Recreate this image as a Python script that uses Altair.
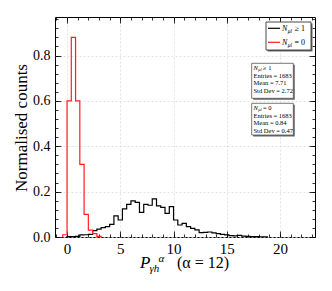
import altair as alt
import pandas as pd

# ---- data ----
bin_width = 0.4
black_start = 0.0
black_heights = [0.002, 0.002, 0.003, 0.009, 0.010, 0.012, 0.028, 0.035, 0.041, 0.046,
                 0.056, 0.093, 0.075, 0.124, 0.144, 0.159, 0.153, 0.109, 0.144, 0.140,
                 0.168, 0.137, 0.131, 0.104, 0.134, 0.075, 0.053, 0.060, 0.046, 0.038,
                 0.031, 0.019, 0.020, 0.022, 0.018, 0.015, 0.012, 0.009, 0.006, 0.005,
                 0.007, 0.004, 0.003, 0.002, 0.002, 0.001, 0.001]
red_start = -0.4
red_heights = [0.010, 0.600, 0.880, 0.600, 0.320, 0.100, 0.030, 0.015, 0.003]
series_names = ["Nge1", "Neq0"]
series_colors = ["#000000", "#ff1f1f"]
x_major = [0, 5, 10, 15, 20]
x_minor = list(range(-1, 24))
y_major = [0.0, 0.2, 0.4, 0.6, 0.8]
y_minor = [round(0.04 * i, 2) for i in range(0, 25)]
x_domain = [-1.13, 23.28]
y_domain = [0.0, 0.97]

W, H = 260, 220
SERIF = "Liberation Serif"


def hist_rows(name, start, heights):
    rows = [{"x": start, "y": 0.0, "s": name, "o": 0}]
    for i, h in enumerate(heights):
        rows.append({"x": round(start + i * bin_width, 4), "y": h, "s": name, "o": i + 1})
    rows.append({"x": round(start + len(heights) * bin_width, 4), "y": 0.0, "s": name,
                 "o": len(heights) + 1})
    return rows


df = pd.DataFrame(hist_rows(series_names[0], black_start, black_heights)
                  + hist_rows(series_names[1], red_start, red_heights))

xs = alt.Scale(domain=x_domain, nice=False, zero=False)
ys = alt.Scale(domain=y_domain, nice=False, zero=False)
col = alt.Color("s:N", scale=alt.Scale(domain=series_names, range=series_colors), legend=None)


def tick_layer(xorient, yorient, xvals, yvals, size):
    return alt.Chart(df).mark_line(interpolate="step-after", strokeOpacity=0).encode(
        x=alt.X("x:Q", scale=xs, axis=alt.Axis(orient=xorient, offset=-H, values=xvals,
                                               labels=False, domain=False, grid=False,
                                               ticks=True, tickSize=size, tickWidth=0.8,
                                               tickColor="black", title=None)),
        y=alt.Y("y:Q", scale=ys, axis=alt.Axis(orient=yorient, offset=-W, values=yvals,
                                               labels=False, domain=False, grid=False,
                                               ticks=True, tickSize=size, tickWidth=0.8,
                                               tickColor="black", title=None)),
        detail="s:N",
    )


main = alt.Chart(df).mark_line(interpolate="step-after", strokeWidth=1.2).encode(
    x=alt.X("x:Q", scale=xs, axis=alt.Axis(orient="bottom", values=x_major, ticks=False,
                                           domain=False, grid=True, gridColor="#dcdcdc",
                                           gridDash=[2, 2], gridWidth=0.8, labelFont=SERIF,
                                           labelFontSize=15, labelColor="black",
                                           labelPadding=4, title=None)),
    y=alt.Y("y:Q", scale=ys, axis=alt.Axis(orient="left", values=y_major, format=".1f",
                                           ticks=False, domain=False, grid=True,
                                           gridColor="#dcdcdc", gridDash=[2, 2],
                                           gridWidth=0.8, labelFont=SERIF, labelFontSize=14,
                                           labelColor="black", labelPadding=5, title=None)),
    color=col,
    order="o:Q",
)

one = pd.DataFrame({"k": [0]})


def txt(t, x, y, size, italic=False, angle=None, align="left", baseline="alphabetic"):
    kw = dict(text=t, font=SERIF, fontSize=size, align=align, baseline=baseline,
              color="black")
    if italic:
        kw["fontStyle"] = "italic"
    if angle is not None:
        kw["angle"] = angle
    return alt.Chart(one).mark_text(**kw).encode(x=alt.value(x), y=alt.value(y))


def box(x1, y1, x2, y2, stroke="#555555", sw=0.8):
    shadow = alt.Chart(one).mark_rect(fill="#666666").encode(
        x=alt.value(x1 + 1.5), x2=alt.value(x2 + 1.5), y=alt.value(y1 + 1.5),
        y2=alt.value(y2 + 1.5))
    r = alt.Chart(one).mark_rect(fill="white", stroke=stroke, strokeWidth=sw).encode(
        x=alt.value(x1), x2=alt.value(x2), y=alt.value(y1), y2=alt.value(y2))
    return [shadow, r]


def seg(x1, x2, y, color, w):
    return alt.Chart(one).mark_rule(color=color, strokeWidth=w).encode(
        x=alt.value(x1), x2=alt.value(x2), y=alt.value(y))


annot = []
# legend
annot += box(211, 5, 256, 33, stroke="#333333", sw=0.9)
annot += [seg(213, 225, 11.3, series_colors[0], 1.2), seg(213, 225, 25.3, series_colors[1], 1.2)]
for yy, rest in [(14.3, "\u2265 1"), (28.3, "= 0")]:
    annot += [txt("N", 227, yy, 8, italic=True), txt("\u03bcl", 232.8, yy + 1.5, 5.5, italic=True),
              txt(rest, 239.5, yy, 8)]

# stat boxes
stats = [(46.3, 81.3, "\u2265 1", "1683", "7.71", "2.72"),
         (86.3, 118.0, "= 0", "1683", "0.84", "0.47")]
for (y1, y2, rel, ent, mean, sd) in stats:
    annot += box(196.7, y1, 238.3, y2)
    b = y1 + 6.5
    annot += [txt("N", 198.5, b, 6.5, italic=True), txt("\u03bcl", 203.2, b + 1.2, 4.5, italic=True),
              txt(rel, 208.0, b, 6.5),
              txt("Entries = " + ent, 198.5, b + 7.7, 6.5),
              txt("Mean = " + mean, 198.5, b + 15.4, 6.5),
              txt("Std Dev = " + sd, 198.5, b + 23.1, 6.5)]

# axis titles
annot += [txt("Normalised counts", -33, 111, 17, angle=270, align="center", baseline="middle")]
annot += [txt("P", 85, 251.3, 17, italic=True),
          txt("\u03b3h", 94.5, 254.5, 11, italic=True),
          txt("\u03b1", 103.5, 244.5, 11, italic=True),
          txt("(\u03b1 = 12)", 122, 251.3, 16)]

layers = [main,
          tick_layer("top", "right", x_major, y_major, 6),
          tick_layer("top", "right", x_minor, y_minor, 3),
          tick_layer("bottom", "left", x_major, y_major, 6),
          tick_layer("bottom", "left", x_minor, y_minor, 3)] + annot

chart = alt.layer(*layers).resolve_axis(x="independent", y="independent").properties(
    width=W, height=H,
    autosize=alt.AutoSizeParams(type="none"),
    padding={"left": 47, "top": 9, "right": 5, "bottom": 40},
    background="white",
).configure_view(stroke="black", strokeWidth=1)

chart.save("out.html", embed_options={"renderer": "svg", "actions": False})
